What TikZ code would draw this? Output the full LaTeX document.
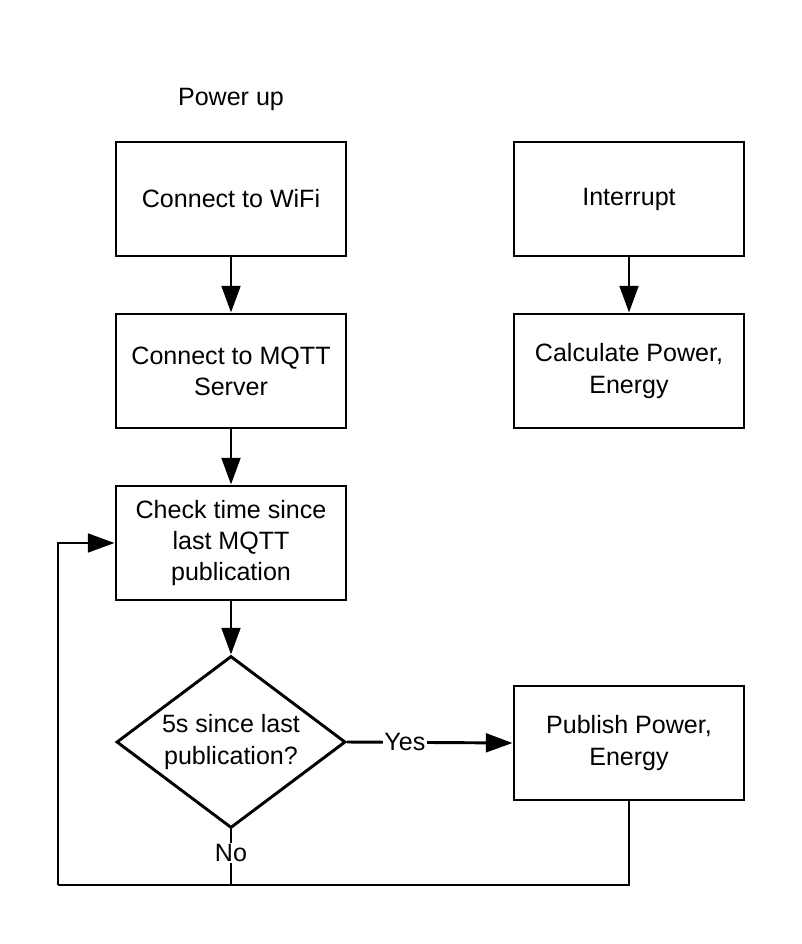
\documentclass[tikz,border=0pt]{standalone}
\usepackage{fontspec}
\setmainfont{Liberation Sans}
\usetikzlibrary{shapes.geometric,arrows.meta}
\tikzset{
	box/.style={draw, line width=2.2pt, minimum width=172.5pt, minimum height=85.5pt, inner sep=0pt, align=center},
	decide/.style={draw, diamond, line width=2.2pt, aspect=1.33, minimum width=171.75pt, minimum height=129pt, inner sep=0pt, align=center},
	lbl/.style={fill=white, inner sep=1pt},
	flow/.style={line width=2.2pt, -{Triangle[length=20pt, width=14pt]}},
	plain/.style={line width=2.2pt}
}
\begin{document}
\begin{tikzpicture}[x=0.75pt, y=-0.75pt, font=\fontsize{18.8}{23.3}\selectfont]
		\useasboundingbox (0, 0) rectangle (801, 944);
		\node (power) at (231, 99){Power up};
		\node[box] (wifi) at (231, 199){Connect to WiFi};
		\node[box] (mqtt) at (231, 371){Connect to MQTT\\Server};
		\node[box] (check) at (231, 543){Check time since\\last MQTT\\publication};
		\node[decide] (since) at (231, 742){5s since last\\publication?};
		\node[box] (irq) at (629, 199){Interrupt};
		\node[box] (calc) at (629, 371){Calculate Power,\\Energy};
		\node[box] (pub) at (629, 743){Publish Power,\\Energy};
		\coordinate (loop) at (58, 885);

		\draw[flow] (wifi) to (mqtt);
		\draw[flow] (mqtt) to (check);
		\draw[flow] (check) to (since);
		\draw[flow] (irq) to (calc);
		\draw[flow] (since.east) -- node[lbl, pos=0.35] (yes){Yes} (pub.west);
		\draw[plain] (since.south) -- node[lbl, pos=0.43] (no){No} (since.south |- loop);
		\draw[plain] (pub.south) |- (loop);
		\draw[flow] (loop) |- (check.west);
	\end{tikzpicture}
\end{document}
